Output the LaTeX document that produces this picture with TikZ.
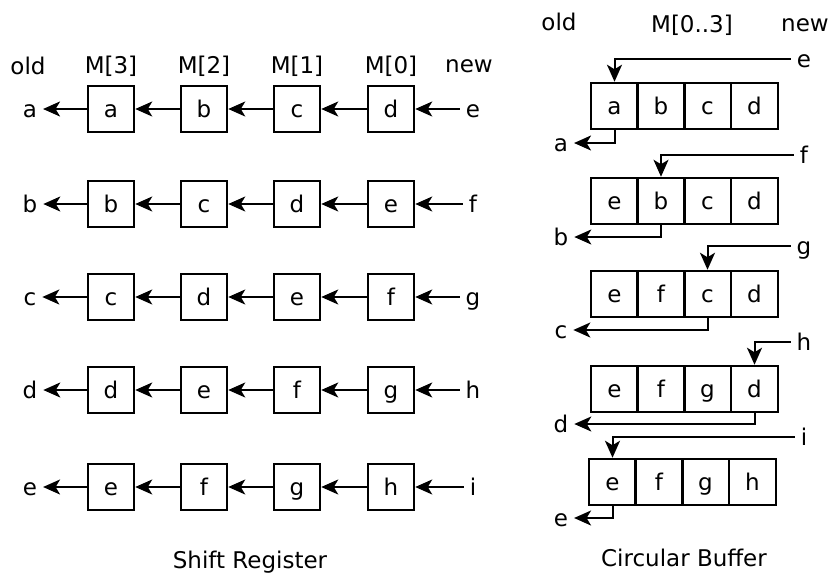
\documentclass[tikz,border=0pt]{standalone}
\usepackage{fontspec}
\setmainfont{DejaVu Sans}
\usetikzlibrary{arrows.meta}
\begin{document}
\begin{tikzpicture}[x=1pt,y=-1pt, line width=2pt,
  every node/.style={font=\fontsize{23}{27}\selectfont},
  txt/.style={text height=16pt, text depth=0pt, inner sep=0pt},
  cell/.style={txt, draw, line width=2.5pt, minimum width=46pt, minimum height=46pt},
  cbcell/.style={txt, draw, line width=2.5pt, minimum width=47pt, minimum height=46pt},
  side/.style={txt, inner xsep=5pt},
  head/.style={inner sep=0pt},
  arr/.style={-{Stealth[length=17pt,width=15pt,inset=4.5pt]}},
]
\useasboundingbox (0,0) rectangle (830,574);

% ---------- Shift register ----------
\node[head] (h-old) at (28,66) {old};
\node[head] (h-m3) at (111,66) {M[3]};
\node[head] (h-m2) at (204,66) {M[2]};
\node[head] (h-m1) at (297,66) {M[1]};
\node[head] (h-m0) at (391,66) {M[0]};
\node[head] (h-new) at (469,66) {new};

\foreach \r/\y/\A/\B/\C/\D/\I in {1/109/a/b/c/d/e, 2/204/b/c/d/e/f, 3/297/c/d/e/f/g, 4/390/d/e/f/g/h, 5/487/e/f/g/h/i}{
  \node[cell] (s\r-1) at (111,\y) {\A};
  \node[cell] (s\r-2) at (204,\y) {\B};
  \node[cell] (s\r-3) at (297,\y) {\C};
  \node[cell] (s\r-4) at (391,\y) {\D};
  \node[side] (so\r) at (30,\y) {\A};
  \node[side] (si\r) at (473,\y) {\I};
  \draw[arr] (si\r.west |- s\r-4.east) -- (s\r-4.east);
  \draw[arr] (s\r-4.west) -- (s\r-3.east);
  \draw[arr] (s\r-3.west) -- (s\r-2.east);
  \draw[arr] (s\r-2.west) -- (s\r-1.east);
  \draw[arr] (s\r-1.west) -- (so\r.east |- s\r-1.west);
}
\node (t-sr) at (250,562) {Shift Register};

% ---------- Circular buffer ----------
\node[head] (c-old) at (559,22) {old};
\node[head] (c-m) at (692,25) {M[0..3]};
\node[head] (c-new) at (805,25) {new};

\foreach \r/\y/\dx/\A/\B/\C/\D/\k/\iy/\I/\oy/\O in {1/106/0/a/b/c/d/1/59/e/143/a, 2/201/0/e/b/c/d/2/155/f/237/b, 3/294/0/e/f/c/d/3/246/g/330/c, 4/389/0/e/f/g/d/4/342/h/424/d, 5/482/-2/e/f/g/h/1/437/i/518/e}{
  \begin{scope}[xshift=\dx]
  \node[cbcell] (c\r-1) at (614.5,\y) {\A};
  \node[cbcell] (c\r-2) at (661,\y) {\B};
  \node[cbcell] (c\r-3) at (707.5,\y) {\C};
  \node[cbcell] (c\r-4) at (754.5,\y) {\D};
  \end{scope}
  \node[side] (ci\r) at (804,\iy) {\I};
  \node[side] (co\r) at (561,\oy) {\O};
  \draw[arr] (ci\r.west) -| (c\r-\k.north);
  \draw[arr] (c\r-\k.south) |- (co\r.east);
}
\node (t-cb) at (684,558) {Circular Buffer};
\end{tikzpicture}
\end{document}
